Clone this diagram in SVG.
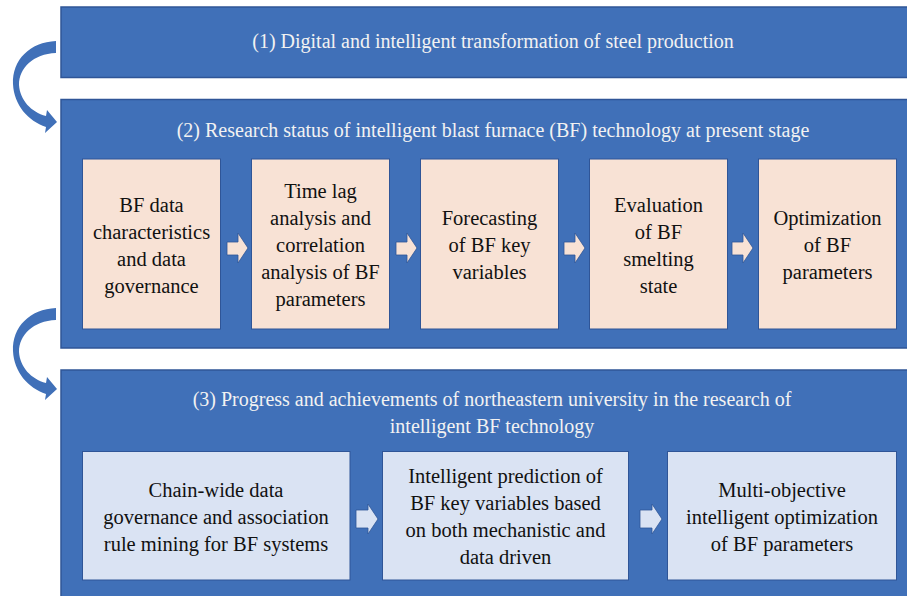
<svg xmlns="http://www.w3.org/2000/svg" width="907" height="596" viewBox="0 0 907 596" font-family="serif">
<defs>
<style>
.mb{fill:#4070b8;stroke:#2f5597;stroke-width:1.5}
.pb{fill:#f8e2d5;stroke:#2f5597;stroke-width:1}
.lb{fill:#dae3f3;stroke:#2f5597;stroke-width:1}
text{font-family:'Liberation Serif','Times New Roman',serif}
.h{font-size:20px;fill:#f2f2f2;text-anchor:middle}
.a{font-size:20.5px;fill:#111;text-anchor:middle}
.cv{fill:#4070b8}
.r1{fill:#f8e2d5;stroke:#2f5597;stroke-width:0.8}
.r2{fill:#dae3f3;stroke:#2f5597;stroke-width:0.8}
</style>
</defs>
<g id="connectors">
<path class="cv" d="M56,41 C30,42 12,60 13,84 C14,105 28,121 46,127 L45,133 L57,122 L47,110 L46,116 C31,112 20,100 19,85 C19,68 33,54 56,53 Z"/>
<path class="cv" d="M56,308 C30,309 12,327 13,351 C14,372 28,388 46,394 L45,400 L57,389 L47,377 L46,383 C31,379 20,367 19,352 C19,335 33,321 56,320 Z"/>
</g>
<g id="section1">
<rect class="mb" x="61" y="7" width="852" height="70.5"/>
<text class="h" x="493" y="48">(1) Digital and intelligent transformation of steel production</text>
</g>
<g id="section2">
<rect class="mb" x="61" y="99.5" width="852" height="248.5"/>
<text class="h" x="493" y="137">(2) Research status of intelligent blast furnace (BF) technology at present stage</text>
</g>
<g id="section3">
<rect class="mb" x="61" y="370" width="852" height="230"/>
<text class="h" x="492" y="406">(3) Progress and achievements of northeastern university in the research of</text>
<text class="h" x="492" y="433">intelligent BF technology</text>
</g>
<g id="boxA">
<rect class="pb" x="82.5" y="159" width="138" height="170"/>
<text class="a"><tspan x="151.5" y="212">BF data</tspan><tspan x="151.5" y="239">characteristics</tspan><tspan x="151.5" y="266">and data</tspan><tspan x="151.5" y="293">governance</tspan></text>
</g>
<g id="boxB">
<rect class="pb" x="251.5" y="159" width="138" height="170"/>
<text class="a"><tspan x="320.5" y="198">Time lag</tspan><tspan x="320.5" y="225">analysis and</tspan><tspan x="320.5" y="252">correlation</tspan><tspan x="320.5" y="279">analysis of BF</tspan><tspan x="320.5" y="306">parameters</tspan></text>
</g>
<g id="boxC">
<rect class="pb" x="420.5" y="159" width="138" height="170"/>
<text class="a"><tspan x="489.5" y="225">Forecasting</tspan><tspan x="489.5" y="252">of BF key</tspan><tspan x="489.5" y="279">variables</tspan></text>
</g>
<g id="boxD">
<rect class="pb" x="589.5" y="159" width="138" height="170"/>
<text class="a"><tspan x="658.5" y="212">Evaluation</tspan><tspan x="658.5" y="239">of BF</tspan><tspan x="658.5" y="266">smelting</tspan><tspan x="658.5" y="293">state</tspan></text>
</g>
<g id="boxE">
<rect class="pb" x="758.5" y="159" width="138" height="170"/>
<text class="a"><tspan x="827.5" y="225">Optimization</tspan><tspan x="827.5" y="252">of BF</tspan><tspan x="827.5" y="279">parameters</tspan></text>
</g>
<g id="boxF">
<rect class="lb" x="82.5" y="451.5" width="267.5" height="128.5"/>
<text class="a"><tspan x="216" y="497">Chain-wide data</tspan><tspan x="216" y="524">governance and association</tspan><tspan x="216" y="551">rule mining for BF systems</tspan></text>
</g>
<g id="boxG">
<rect class="lb" x="382.5" y="451.5" width="246" height="128.5"/>
<text class="a"><tspan x="505.5" y="483">Intelligent prediction of</tspan><tspan x="505.5" y="510">BF key variables based</tspan><tspan x="505.5" y="537">on both mechanistic and</tspan><tspan x="505.5" y="564">data driven</tspan></text>
</g>
<g id="boxH">
<rect class="lb" x="667.5" y="451.5" width="229" height="128.5"/>
<text class="a"><tspan x="782" y="497">Multi-objective</tspan><tspan x="782" y="524">intelligent optimization</tspan><tspan x="782" y="551">of BF parameters</tspan></text>
</g>
<g id="flow-arrows">
<path class="r1" d="M227,242 H238 V233 L248,248 L238,263 V255 H227 Z"/>
<path class="r1" d="M396,242 H407 V233 L417,248 L407,263 V255 H396 Z"/>
<path class="r1" d="M564,242 H575 V233 L585,248 L575,263 V255 H564 Z"/>
<path class="r1" d="M732,242 H743 V233 L753,248 L743,263 V255 H732 Z"/>
<path class="r2" d="M356,510 H368 V504 L378,519 L368,534 V528 H356 Z"/>
<path class="r2" d="M640,510 H652 V504 L662,519 L652,534 V528 H640 Z"/>
</g>
</svg>
